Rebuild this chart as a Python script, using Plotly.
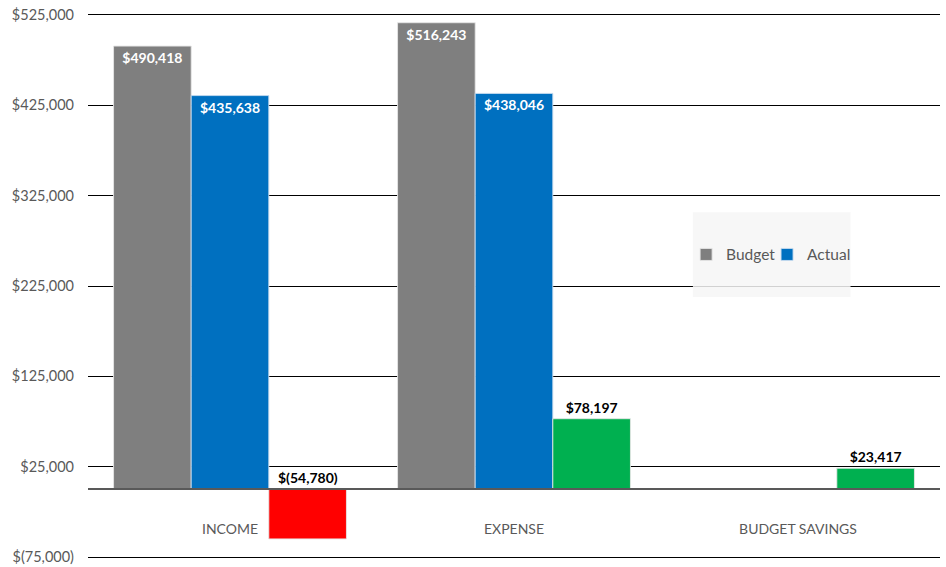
import plotly.graph_objects as go

categories = ["INCOME", "EXPENSE", "BUDGET SAVINGS"]
budget = [490418, 516243, None]
actual = [435638, 438046, None]
variance = [-54780, 78197, 23417]
tick_vals = [-75000, 25000, 125000, 225000, 325000, 425000, 525000]
tick_text = ["$(75,000)", "$25,000", "$125,000", "$225,000", "$325,000", "$425,000", "$525,000"]

FONT = "Lato"
GRAY_TXT = "#595959"
BARGAP = 0.18


def money(v):
    if v is None:
        return ""
    return f"${v:,.0f}" if v >= 0 else f"$({-v:,.0f})"


var_colors = ["#ff0000" if v < 0 else "#00b050" for v in variance]

fig = go.Figure()
fig.add_trace(go.Bar(
    name="Budget", x=categories, y=budget, marker_color="#7f7f7f",
    marker_line=dict(color="rgba(230,230,230,0.9)", width=1),
    text=[money(v) for v in budget], textposition="inside", insidetextanchor="end",
    textfont=dict(color="white", size=14, family=FONT, weight="bold"),
    textangle=0, legend="legend",
))
fig.add_trace(go.Bar(
    name="Actual", x=categories, y=actual, marker_color="#0070c0",
    marker_line=dict(color="rgba(200,220,240,0.9)", width=1),
    text=[money(v) for v in actual], textposition="inside", insidetextanchor="end",
    textfont=dict(color="white", size=14, family=FONT, weight="bold"),
    textangle=0, legend="legend2",
))
fig.add_trace(go.Bar(
    name="Variance", x=categories, y=variance, marker_color=var_colors,
    marker_line=dict(color="rgba(230,230,230,0.9)", width=1),
    text=[money(v) if v >= 0 else "" for v in variance], textposition="outside",
    textfont=dict(color="black", size=14, family=FONT, weight="bold"),
    textangle=0, showlegend=False, cliponaxis=False,
))

# label for negative variance sits above the zero line
bar_w = (1 - BARGAP) / 3
for i, v in enumerate(variance):
    if v < 0:
        fig.add_annotation(x=i + bar_w, y=0, xref="x", yref="y", text=f"<b>{money(v)}</b>",
                           showarrow=False, yanchor="bottom", yshift=1,
                           font=dict(color="black", size=14, family=FONT))

ymin, ymax = tick_vals[0], tick_vals[-1]
pad = 2000
px_per = 542 / (ymax - ymin)
top_m = 15 - pad * px_per
bot_m = 567 - 557 - pad * px_per
zero_pos = (0 - (ymin - pad)) / ((ymax + pad) - (ymin - pad))

leg_common = dict(orientation="h", y=0.557, xanchor="left", yanchor="middle",
                  bgcolor="rgba(0,0,0,0)", font=dict(size=15.5, color=GRAY_TXT, family=FONT))

fig.update_layout(
    width=946, height=567,
    margin=dict(l=88, r=6, t=top_m, b=bot_m, autoexpand=False),
    paper_bgcolor="white", plot_bgcolor="white",
    barmode="group", bargap=BARGAP, bargroupgap=0,
    font=dict(family=FONT, size=14, color=GRAY_TXT),
    legend=dict(x=0.702, **leg_common),
    legend2=dict(x=0.797, **leg_common),
    xaxis=dict(anchor="free", position=zero_pos, showline=True, linecolor="#595959",
               linewidth=2, showgrid=False, ticks="", ticklabelstandoff=27, automargin=False,
               tickfont=dict(size=14, color=GRAY_TXT, family=FONT)),
    yaxis=dict(range=[ymin - pad, ymax + pad], tickvals=tick_vals, ticktext=tick_text,
               showgrid=True, gridcolor="black", gridwidth=1.2, zeroline=False,
               showline=False, ticks="", ticklabelstandoff=13, automargin=False,
               tickfont=dict(size=14.5, color=GRAY_TXT, family=FONT)),
    shapes=[dict(type="rect", xref="paper", yref="paper", x0=0.71, x1=0.895,
                 y0=0.48, y1=0.635, fillcolor="rgba(246,246,246,0.85)",
                 line=dict(width=0), layer="above")],
)

fig.write_html("out.html", config={"displayModeBar": False},
               post_script="document.body.style.margin='0';")
